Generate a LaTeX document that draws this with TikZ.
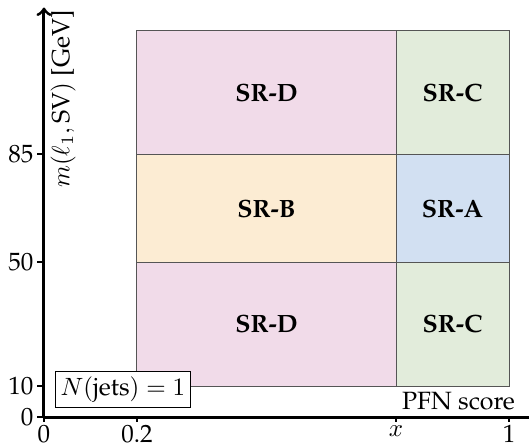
\documentclass[tikz,border=0pt]{standalone}
\usepackage[T1]{fontenc}
\usepackage{palatino}
\usepackage{xcolor}
\usepackage{tikz}
\usetikzlibrary{arrows.meta}
\usetikzlibrary{positioning}
\definecolor{srPink}{HTML}{F1DBE9}
\definecolor{srCream}{HTML}{FCECD3}
\definecolor{srBlue}{HTML}{D2E0F2}
\definecolor{srGreen}{HTML}{E2ECDB}
\definecolor{srEdge}{HTML}{555555}
\tikzset{sr-region/.style={draw=srEdge, thin}}
\tikzset{sr-label/.style={font=\bfseries}}
\tikzset{axis-line/.style={very thick, ->}}
\tikzset{tick-label/.style={inner sep=1pt}}
\tikzset{>=to}

\begin{document}
\begin{tikzpicture}[x=6.537cm, y=0.04344cm]
            \useasboundingbox (-0.0946,-9.709) rectangle (1.043,134.95);

            % signal regions
            \filldraw [sr-region, fill=srPink] (0.2,10) rectangle (0.757,50);
            \filldraw [sr-region, fill=srCream] (0.2,50) rectangle (0.757,85);
            \filldraw [sr-region, fill=srPink] (0.2,85) rectangle (0.757,125);
            \filldraw [sr-region, fill=srGreen] (0.757,10) rectangle (1,50);
            \filldraw [sr-region, fill=srBlue] (0.757,50) rectangle (1,85);
            \filldraw [sr-region, fill=srGreen] (0.757,85) rectangle (1,125);

            \node [sr-label] (srd-low) at (0.4785,30) {SR-D};
            \node [sr-label] (srb) at (0.4785,67.5) {SR-B};
            \node [sr-label] (srd-high) at (0.4785,105) {SR-D};
            \node [sr-label] (src-low) at (0.8785,30) {SR-C};
            \node [sr-label] (sra) at (0.8785,67.5) {SR-A};
            \node [sr-label] (src-high) at (0.8785,105) {SR-C};

            % axes
            \coordinate (origin) at (0,0);
            \coordinate (x-end) at (1.062,0);
            \coordinate (y-end) at (0,132.5);
            \draw [axis-line] (origin) -- (x-end);
            \draw [axis-line] (origin) -- (y-end);

            \foreach \xval/\xtext in {0/0, 0.2/0.2, 0.757/$x$, 1/1} {
                \draw [thick] (\xval,0) -- ++(0,-0.07cm)
                    node [tick-label, anchor=north] {\xtext};
            }
            \foreach \yval in {0, 10, 50, 85} {
                \draw [thick] (0,\yval) -- ++(-0.1cm,0)
                    node [tick-label, anchor=east] {\yval};
            }

            \node [rotate=90, anchor=north east, inner sep=1pt] (y-label)
                at ([xshift=0.05cm] y-end) {$m(\ell_1, \textrm{SV})$ [GeV]};
            \node [anchor=south east, inner sep=1pt] (x-label)
                at ([xshift=-0.28cm, yshift=0.05cm] x-end) {PFN score};

            \node [draw, thin, fill=white, anchor=south west, inner sep=2pt] (jets)
                at ([xshift=0.155cm, yshift=0.127cm] origin) {$N(\textrm{jets}) = 1$};
        \end{tikzpicture}
\end{document}
